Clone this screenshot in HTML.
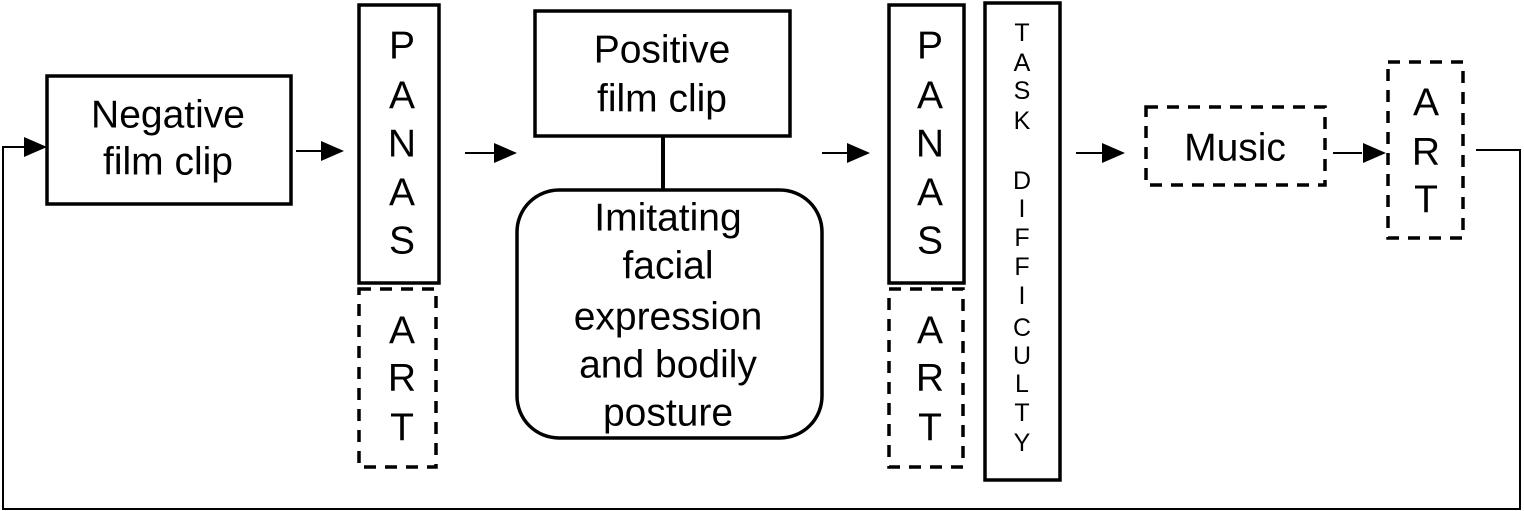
<!DOCTYPE html>
<html><head><style>html,body{margin:0;padding:0;background:#fff}svg{display:block}</style></head>
<body>
<svg width="1524" height="511" viewBox="0 0 1524 511" xmlns="http://www.w3.org/2000/svg" font-family="Liberation Sans, Arial, sans-serif" fill="#000">
<g fill="none" stroke="#000" stroke-width="3.5">
<rect x="47" y="76" width="244" height="128"/>
<rect x="359" y="5" width="80" height="278"/>
<rect x="535" y="11" width="255" height="125"/>
<rect x="517" y="190" width="305" height="248" rx="42"/>
<rect x="889" y="5" width="75" height="278"/>
<rect x="985" y="3" width="75" height="477"/>
</g>
<g fill="none" stroke="#000" stroke-width="3.5" stroke-dasharray="12,9">
<rect x="359" y="289" width="77" height="178"/>
<rect x="889" y="289" width="74" height="178"/>
<rect x="1146" y="107" width="179" height="78"/>
<rect x="1388" y="62" width="75" height="176"/>
</g>
<g fill="none" stroke="#000" stroke-width="2">
<line x1="663" y1="136" x2="663" y2="190" stroke-width="4"/>
<polyline points="1476,150 1520,150 1520,509 3,509 3,147 28,147"/>
<line x1="296" y1="151" x2="325" y2="151"/>
<line x1="465" y1="153" x2="497" y2="153"/>
<line x1="822" y1="153" x2="850" y2="153"/>
<line x1="1076" y1="153" x2="1105" y2="153"/>
<line x1="1333" y1="153" x2="1362" y2="153"/>
</g>
<polygon points="24,137 47,147 24,157"/>
<polygon points="321,141 344,151 321,161"/>
<polygon points="494,143 517,153 494,163"/>
<polygon points="847,143 870,153 847,163"/>
<polygon points="1102,143 1125,153 1102,163"/>
<polygon points="1363,143 1386,153 1363,163"/>
<g font-size="39" text-anchor="middle" dominant-baseline="central">
<text x="168" y="115">Negative</text><text x="168" y="162">film clip</text>
<text x="662" y="50">Positive</text><text x="662" y="99">film clip</text>
<text x="668" y="218">Imitating</text><text x="668" y="266">facial</text><text x="668" y="317">expression</text><text x="668" y="365">and bodily</text><text x="668" y="413">posture</text>
<text x="1235" y="148">Music</text>
<text x="402" y="46">P</text><text x="402" y="96">A</text><text x="402" y="144">N</text><text x="402" y="193">A</text><text x="402" y="241">S</text>
<text x="402" y="331">A</text><text x="402" y="378">R</text><text x="402" y="428">T</text>
<text x="930" y="46">P</text><text x="930" y="96">A</text><text x="930" y="144">N</text><text x="930" y="193">A</text><text x="930" y="241">S</text>
<text x="930" y="331">A</text><text x="930" y="378">R</text><text x="930" y="428">T</text>
<text x="1426" y="103">A</text><text x="1426" y="152">R</text><text x="1426" y="200">T</text>
</g>
<g font-size="25" text-anchor="middle" dominant-baseline="central">
<text x="1022" y="33">T</text><text x="1022" y="63">A</text><text x="1022" y="91">S</text><text x="1022" y="121">K</text>
<text x="1022" y="181">D</text><text x="1022" y="209">I</text><text x="1022" y="238">F</text><text x="1022" y="267">F</text><text x="1022" y="296">I</text><text x="1022" y="328">C</text><text x="1022" y="356">U</text><text x="1022" y="384">L</text><text x="1022" y="413">T</text><text x="1022" y="443">Y</text>
</g>
</svg>
</body></html>
